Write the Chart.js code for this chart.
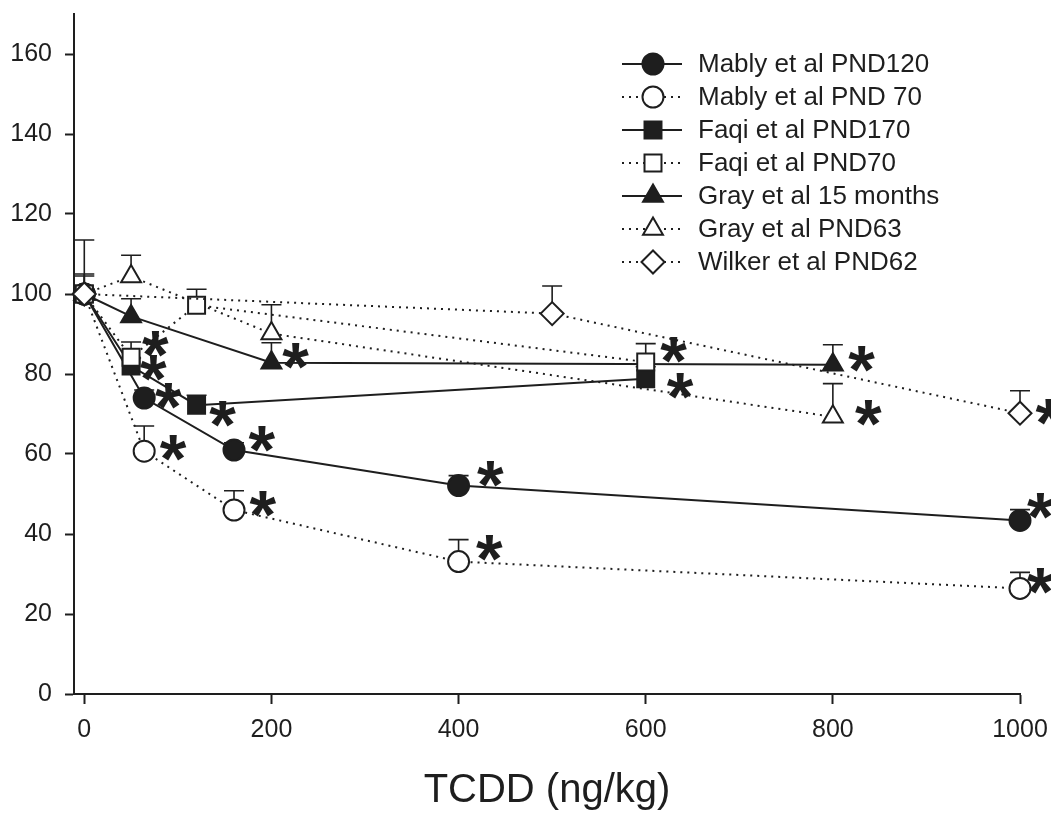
<!DOCTYPE html>
<html>
<head>
<meta charset="utf-8">
<script src="https://cdn.jsdelivr.net/npm/chart.js@4.4.1/dist/chart.umd.min.js"></script>
<style>
  html, body { margin: 0; padding: 0; background: #fff; }
  #wrap { width: 1051px; height: 815px; position: relative; }
</style>
</head>
<body>
<div id="wrap"><canvas id="chartTcdd"></canvas></div>
<script>
// dosis TCDD (ng/kg) y % del control
const mably120X = [0, 64, 160, 400, 1000];
const mably120Y = [100, 74, 61, 52.1, 43.4];
const mably120Err = [5, 2, 1.8, 2.5, 2.7];

const mably70X = [0, 64, 160, 400, 1000];
const mably70Y = [100, 60.7, 46, 33.1, 26.4];
const mably70Err = [4.5, 6.3, 4.8, 5.5, 4];

const faqi170X = [0, 50, 120, 600];
const faqi170Y = [100, 82, 72.2, 78.8];
const faqi170Err = [13.5, 2, 2.5, 3];

const faqi70X = [0, 50, 120, 600];
const faqi70Y = [100, 84.2, 97.2, 83];
const faqi70Err = [0, 3.8, 4, 4.6];

const gray15X = [0, 50, 200, 800];
const gray15Y = [100, 94.4, 82.8, 82.3];
const gray15Err = [0, 4.4, 5, 5];

const gray63X = [0, 50, 200, 800];
const gray63Y = [100, 104.4, 90.1, 69.3];
const gray63Err = [0, 5.3, 7.2, 8.3];

const wilkerX = [0, 500, 1000];
const wilkerY = [100, 95.1, 70.2];
const wilkerErr = [0, 6.9, 5.6];

const seriesNames = [
  "Mably et al PND120",
  "Mably et al PND 70",
  "Faqi et al PND170",
  "Faqi et al PND70",
  "Gray et al 15 months",
  "Gray et al PND63",
  "Wilker et al PND62",
];

// asteriscos de significancia (posicion en unidades de datos)
const starX = [76, 74, 90, 148, 95, 190, 226, 191, 630, 637, 831, 838, 434, 433, 1022, 1022, 1031];
const starY = [87.4, 81.4, 74.4, 69.9, 61.4, 63.7, 84.4, 47.4, 86.1, 76.9, 83.7, 70.2, 54.9, 36.6, 46.9, 28.2, 70.6];

const xTickValues = [0, 200, 400, 600, 800, 1000];
const yTickValues = [0, 20, 40, 60, 80, 100, 120, 140, 160];

const INK = "#1e1e1e";
const FONT = "'Liberation Sans', Arial, Helvetica, sans-serif";

function toPoints(xs, ys) {
  return xs.map((x, i) => ({ x: x, y: ys[i] }));
}

// order: el menor se pinta encima
function makeSeries(label, xs, ys, errs, style, filled, dotted, radius, order) {
  return {
    label: label,
    data: toPoints(xs, ys),
    errs: errs,
    order: order,
    borderColor: INK,
    borderWidth: 2,
    borderDash: dotted ? [2, 5] : [],
    fill: false,
    tension: 0,
    clip: false,
    pointStyle: style,
    pointRadius: radius,
    pointHoverRadius: radius,
    pointBorderWidth: 2,
    pointBorderColor: INK,
    pointBackgroundColor: filled ? INK : "#ffffff",
  };
}

const datasets = [
  makeSeries(seriesNames[0], mably120X, mably120Y, mably120Err, "circle", true, false, 10.5, 2),
  makeSeries(seriesNames[1], mably70X, mably70Y, mably70Err, "circle", false, true, 10.5, 2),
  makeSeries(seriesNames[2], faqi170X, faqi170Y, faqi170Err, "rect", true, false, 12, 3),
  makeSeries(seriesNames[3], faqi70X, faqi70Y, faqi70Err, "rect", false, true, 12, 1),
  makeSeries(seriesNames[4], gray15X, gray15Y, gray15Err, "triangle", true, false, 11.5, 2),
  makeSeries(seriesNames[5], gray63X, gray63Y, gray63Err, "triangle", false, true, 11.5, 2),
  makeSeries(seriesNames[6], wilkerX, wilkerY, wilkerErr, "rectRot", false, true, 11.5, 0),
];

// barras de error (solo hacia arriba), debajo de los marcadores
const errorBarsPlugin = {
  id: "errorBars",
  beforeDatasetsDraw(chart) {
    const ctx = chart.ctx;
    const yScale = chart.scales.y;
    ctx.save();
    ctx.strokeStyle = INK;
    ctx.lineWidth = 1.6;
    ctx.setLineDash([]);
    chart.data.datasets.forEach((ds, di) => {
      const meta = chart.getDatasetMeta(di);
      meta.data.forEach((pt, i) => {
        const e = ds.errs[i];
        if (!e) return;
        const top = yScale.getPixelForValue(ds.data[i].y + e);
        ctx.beginPath();
        ctx.moveTo(pt.x, pt.y);
        ctx.lineTo(pt.x, top);
        ctx.moveTo(pt.x - 10, top);
        ctx.lineTo(pt.x + 10, top);
        ctx.stroke();
      });
    });
    ctx.restore();
  },
};

const starsPlugin = {
  id: "stars",
  afterDatasetsDraw(chart) {
    const ctx = chart.ctx;
    const xs = chart.scales.x;
    const ys = chart.scales.y;
    ctx.save();
    ctx.fillStyle = INK;
    ctx.font = "bold 100px " + FONT;
    const m = ctx.measureText("*");
    const h = m.actualBoundingBoxAscent + m.actualBoundingBoxDescent;
    const size = 100 * 26 / h;
    ctx.font = "bold " + size + "px " + FONT;
    const mm = ctx.measureText("*");
    ctx.textAlign = "left";
    ctx.textBaseline = "alphabetic";
    starX.forEach((sx, i) => {
      const px = xs.getPixelForValue(sx);
      const py = ys.getPixelForValue(starY[i]);
      const bx = px - (mm.actualBoundingBoxRight - mm.actualBoundingBoxLeft) / 2;
      const by = py + (mm.actualBoundingBoxAscent - mm.actualBoundingBoxDescent) / 2;
      ctx.fillText("*", bx, by);
    });
    ctx.restore();
  },
};

// leyenda propia: linea + marcador + texto
const legendPlugin = {
  id: "legendBox",
  afterDraw(chart) {
    const ctx = chart.ctx;
    const area = chart.chartArea;
    const x0 = area.right - 398;
    const x1 = area.right - 338;
    const xm = area.right - 367;
    const xt = area.right - 322;
    ctx.save();
    chart.data.datasets.forEach((ds, i) => {
      const y = area.top + 50 + 33 * i;
      ctx.strokeStyle = INK;
      ctx.lineWidth = 2;
      ctx.setLineDash(ds.borderDash);
      ctx.beginPath();
      ctx.moveTo(x0, y);
      ctx.lineTo(x1, y);
      ctx.stroke();
      ctx.setLineDash([]);
      ctx.fillStyle = ds.pointBackgroundColor;
      ctx.lineWidth = 2;
      Chart.helpers.drawPoint(ctx, { pointStyle: ds.pointStyle, radius: ds.pointRadius, borderWidth: 2, rotation: 0 }, xm, y);
      ctx.fillStyle = INK;
      ctx.font = "26px " + FONT;
      ctx.textAlign = "left";
      ctx.textBaseline = "middle";
      ctx.fillText(ds.label, xt, y + 1);
    });
    ctx.restore();
  },
};

new Chart(document.getElementById("chartTcdd").getContext("2d"), {
  type: "line",
  data: { datasets: datasets },
  plugins: [errorBarsPlugin, starsPlugin, legendPlugin],
  options: {
    responsive: true,
    maintainAspectRatio: false,
    animation: false,
    layout: { padding: { left: 12, right: 31, top: 12, bottom: 0 } },
    plugins: {
      legend: { display: false },
      tooltip: { enabled: false },
    },
    scales: {
      x: {
        type: "linear",
        min: -11,
        max: 1000,
        afterBuildTicks: (axis) => { axis.ticks = xTickValues.map((v) => ({ value: v })); },
        afterFit: (axis) => { axis.paddingLeft = 0; axis.paddingRight = 0; },
        ticks: { color: INK, font: { family: FONT, size: 25 }, padding: 11, maxRotation: 0, callback: (v) => String(v) },
        grid: { drawOnChartArea: false, drawTicks: true, tickLength: 10, tickWidth: 2, tickColor: INK },
        border: { display: true, color: INK, width: 2 },
        title: {
          display: true,
          text: "TCDD (ng/kg)",
          color: INK,
          font: { family: FONT, size: 40 },
          padding: { top: 11, bottom: 0 },
        },
      },
      y: {
        type: "linear",
        min: 0,
        max: 170,
        afterBuildTicks: (axis) => { axis.ticks = yTickValues.map((v) => ({ value: v })); },
        afterFit: (axis) => { axis.width = 62; axis.paddingTop = 0; axis.paddingBottom = 0; },
        ticks: { color: INK, font: { family: FONT, size: 25 }, padding: 13, callback: (v) => String(v) },
        grid: { drawOnChartArea: false, drawTicks: true, tickLength: 9, tickWidth: 2, tickColor: INK },
        border: { display: true, color: INK, width: 2 },
      },
    },
  },
});
</script>
</body>
</html>
